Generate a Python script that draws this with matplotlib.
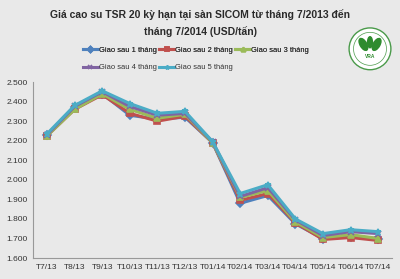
import matplotlib
matplotlib.use('Agg')
import matplotlib.pyplot as plt
from matplotlib.patches import Circle, Ellipse

plt.rcParams['font.family'] = ['Liberation Sans', 'DejaVu Sans']

months = ['T7/13', 'T8/13', 'T9/13', 'T10/13', 'T11/13', 'T12/13', 'T01/14',
          'T02/14', 'T03/14', 'T04/14', 'T05/14', 'T06/14', 'T07/14']

giao_1 = [2230, 2370, 2440, 2330, 2310, 2320, 2190, 1880, 1920, 1775, 1700, 1710, 1700]
giao_2 = [2225, 2360, 2435, 2340, 2300, 2325, 2190, 1895, 1930, 1780, 1695, 1705, 1690]
giao_3 = [2225, 2360, 2440, 2360, 2315, 2335, 2190, 1910, 1945, 1785, 1705, 1720, 1700]
giao_4 = [2230, 2375, 2450, 2375, 2330, 2340, 2195, 1915, 1960, 1795, 1715, 1735, 1725]
giao_5 = [2235, 2380, 2455, 2390, 2340, 2350, 2195, 1930, 1975, 1800, 1725, 1745, 1735]

series = [
    ('Giao sau 1 tháng', giao_1, '#4F81BD', 'D'),
    ('Giao sau 2 tháng', giao_2, '#C0504D', 's'),
    ('Giao sau 3 tháng', giao_3, '#9BBB59', '^'),
    ('Giao sau 4 tháng', giao_4, '#8064A2', 'x'),
    ('Giao sau 5 tháng', giao_5, '#4BACC6', '*'),
]

bg = '#E9E9E9'
fig = plt.figure(figsize=(4.0, 2.79), dpi=100, facecolor=bg)
ax = fig.add_axes([0.083, 0.075, 0.897, 0.631], facecolor=bg)

x = list(range(len(months)))
for name, vals, col, mk in series:
    ax.plot(x, vals, color=col, lw=2.2, marker=mk, markersize=4.5,
            markeredgewidth=1.2, label=name)

ax.set_xlim(-0.5, len(months) - 0.5)
ax.set_ylim(1600, 2500)
ax.set_yticks(range(1600, 2501, 100))
ax.set_yticklabels(['{:,}'.format(v).replace(',', '.') for v in range(1600, 2501, 100)])
ax.set_xticks(x)
ax.set_xticklabels(months)
ax.tick_params(axis='both', labelsize=6, colors='#333333', length=0, pad=4)
ax.spines['top'].set_visible(False)
ax.spines['right'].set_visible(False)
ax.spines['left'].set_color('#999999')
ax.spines['bottom'].set_color('#999999')

fig.text(0.5, 0.945, 'Giá cao su TSR 20 kỳ hạn tại sàn SICOM từ tháng 7/2013 đến',
         ha='center', va='center', fontsize=7.5, fontweight='bold', color='#2a2a2a')
fig.text(0.5, 0.887, 'tháng 7/2014 (USD/tấn)',
         ha='center', va='center', fontsize=7.5, fontweight='bold', color='#2a2a2a')

handles, labels = ax.get_legend_handles_labels()
leg_kw = dict(frameon=False, fontsize=5.4, handlelength=2.0, handletextpad=0.15,
              columnspacing=0.3, markerscale=0.7, labelcolor='#333333')
leg1 = fig.legend(handles[:3], labels[:3], loc='center left',
                  bbox_to_anchor=(0.19, 0.82), ncol=3, **leg_kw)
fig.legend(handles[3:], labels[3:], loc='center left',
           bbox_to_anchor=(0.19, 0.757), ncol=2, **leg_kw)
fig.add_artist(leg1)

# VRA logo
lax = fig.add_axes([0.87, 0.73, 0.11, 0.19])
lax.set_xlim(-1, 1)
lax.set_ylim(-1, 1)
lax.set_aspect('equal')
lax.axis('off')
lax.add_patch(Circle((0, 0), 0.95, facecolor='white', edgecolor='#4a9a4a', lw=1))
lax.add_patch(Circle((0, 0), 0.75, facecolor='white', edgecolor='#4a9a4a', lw=0.5))
lax.add_patch(Ellipse((-0.3, 0.2), 0.3, 0.6, angle=30, color='#2e8b2e'))
lax.add_patch(Ellipse((0.3, 0.2), 0.3, 0.6, angle=-30, color='#2e8b2e'))
lax.add_patch(Ellipse((0, 0.3), 0.22, 0.5, color='#2e8b2e'))
lax.text(0, -0.35, 'VRA', ha='center', va='center', fontsize=3.5,
         color='#2e8b2e', fontweight='bold')

fig.savefig('out.png', dpi=100, facecolor=bg)
